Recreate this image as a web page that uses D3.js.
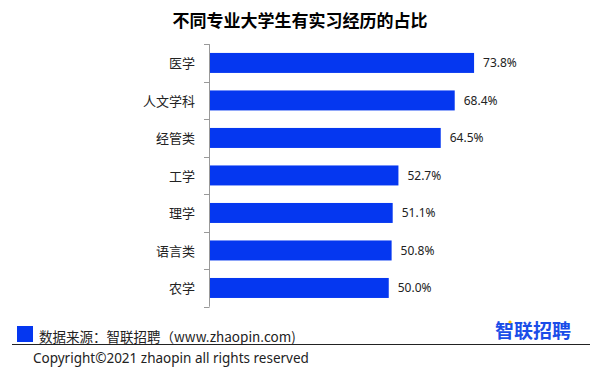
<html>
<head>
<meta charset="utf-8">
<script src="https://d3js.org/d3.v7.min.js"></script>
<style>
  body { margin: 0; background: #fff; }
</style>
</head>
<body>
<script>
  var categories = ["医学", "人文学科", "经管类", "工学", "理学", "语言类", "农学"];
  var values = [73.8, 68.4, 64.5, 52.7, 51.1, 50.8, 50.0];
  var valueLabels = ["73.8%", "68.4%", "64.5%", "52.7%", "51.1%", "50.8%", "50.0%"];

  var cjk = "'Noto Sans CJK SC', 'Noto Sans', sans-serif";
  var latin = "'Noto Sans', 'Open Sans', sans-serif";
  var blue = "#0537f0";

  var svg = d3.select("body").append("svg")
    .attr("width", 601)
    .attr("height", 371);

  // title
  svg.append("text").attr("x", 300).attr("y", 19)
    .attr("text-anchor", "middle").attr("dominant-baseline", "central")
    .style("font-family", cjk).style("font-size", "17px").style("font-weight", "bold")
    .text("不同专业大学生有实习经历的占比");

  var x = d3.scaleLinear().domain([0, 100]).range([209.5, 568]);
  var y = d3.scaleBand().domain(categories).range([44.2, 306.7])
    .paddingInner(0.467).paddingOuter(0.233);

  // axis line + ticks between bands
  var axisG = svg.append("g");
  axisG.append("line")
    .attr("x1", 209.5).attr("x2", 209.5)
    .attr("y1", y.range()[0]).attr("y2", y.range()[1])
    .attr("stroke", "#999").attr("stroke-width", 1);
  var bounds = d3.range(categories.length + 1).map(function (i) { return y.range()[0] + i * y.step(); });
  axisG.selectAll("line.tk").data(bounds).enter().append("line")
    .attr("class", "tk")
    .attr("x1", 204).attr("x2", 209.5)
    .attr("y1", function (d) { return Math.round(d) + 0.5; })
    .attr("y2", function (d) { return Math.round(d) + 0.5; })
    .attr("stroke", "#999").attr("stroke-width", 1);

  // category labels
  svg.append("g").selectAll("text").data(categories).enter().append("text")
    .attr("x", 195)
    .attr("y", function (d) { return y(d) + y.bandwidth() / 2; })
    .attr("text-anchor", "end").attr("dominant-baseline", "central")
    .style("font-family", cjk).style("font-size", "13px").style("fill", "#222")
    .text(function (d) { return d; });

  // bars
  svg.append("g").selectAll("rect").data(values).enter().append("rect")
    .attr("x", x(0) + 0.5)
    .attr("y", function (d, i) { return y(categories[i]); })
    .attr("width", function (d) { return x(d) - x(0) - 0.5; })
    .attr("height", y.bandwidth())
    .style("fill", blue);

  // value labels
  svg.append("g").selectAll("text").data(values).enter().append("text")
    .attr("x", function (d) { return x(d) + 9; })
    .attr("y", function (d, i) { return y(categories[i]) + y.bandwidth() / 2; })
    .attr("dominant-baseline", "central")
    .style("font-family", latin).style("font-size", "12px").style("fill", "#222")
    .text(function (d, i) { return valueLabels[i]; });

  // footer
  svg.append("rect").attr("x", 17).attr("y", 326).attr("width", 16).attr("height", 16).style("fill", blue);
  svg.append("text").attr("x", 39).attr("y", 335.5)
    .attr("dominant-baseline", "central")
    .style("font-family", cjk).style("font-size", "13.5px").style("fill", "#222")
    .text("数据来源：智联招聘（www.zhaopin.com)");
  svg.append("line").attr("x1", 12).attr("x2", 590).attr("y1", 344.5).attr("y2", 344.5)
    .attr("stroke", "#222").attr("stroke-width", 1);
  svg.append("text").attr("x", 33).attr("y", 358)
    .attr("dominant-baseline", "central")
    .style("font-family", latin).style("font-size", "13.5px").style("fill", "#222")
    .text("Copyright©2021 zhaopin all rights reserved");

  // logo
  svg.append("text").attr("x", 495).attr("y", 329)
    .attr("dominant-baseline", "central")
    .style("font-family", cjk).style("font-size", "19px").style("font-weight", "bold").style("fill", "#1a4de8")
    .text("智联招聘");
  svg.append("circle").attr("cx", 510).attr("cy", 322).attr("r", 1.6).style("fill", "#ffc400");
</script>
</body>
</html>
